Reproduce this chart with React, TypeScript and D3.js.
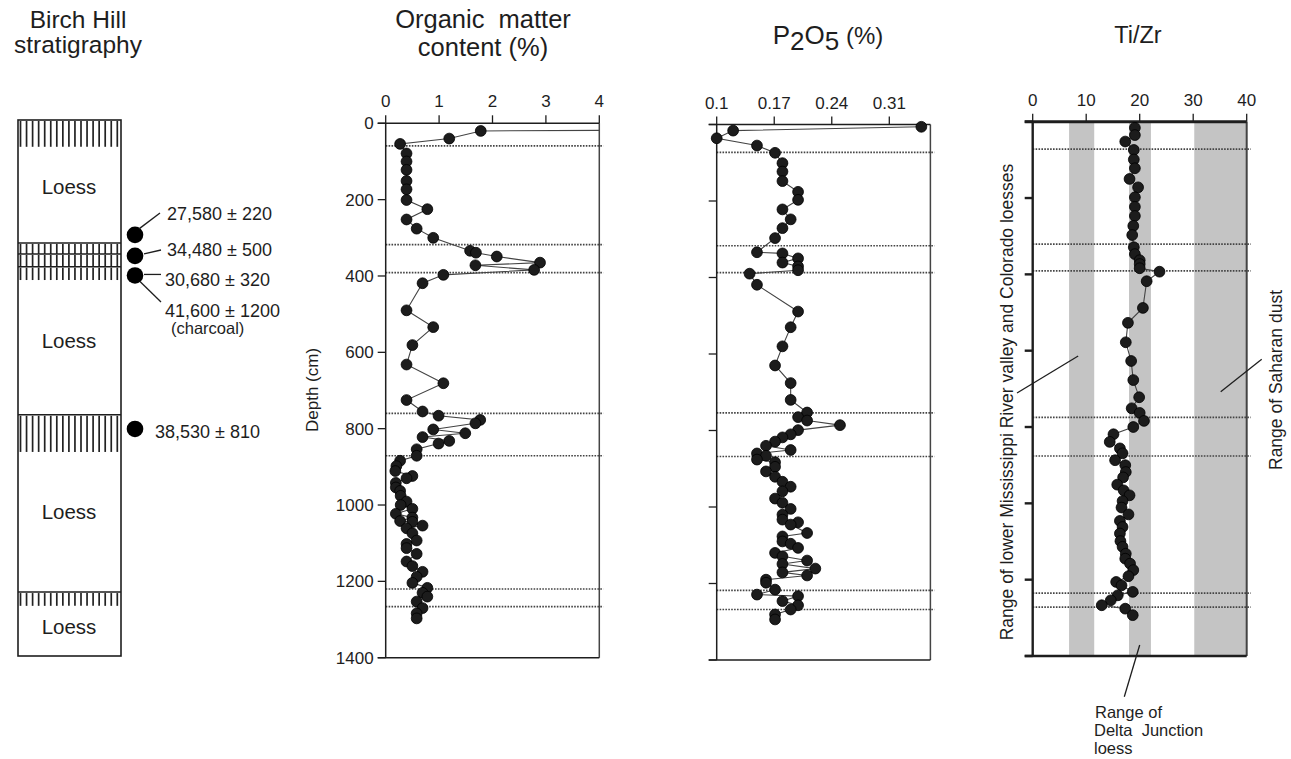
import React from "react";
import * as d3 from "d3";

const W = 1291;
const H = 759;
const FONT = "'Liberation Sans', Arial, Helvetica, sans-serif";
const INK = "#1e1e1e";

// depth axis (cm)
const depthTicks = [0, 200, 400, 600, 800, 1000, 1200, 1400];

// x axis ticks per panel
const omTicks = [0, 1, 2, 3, 4];
const p2o5Ticks = [0.1, 0.17, 0.24, 0.31];
const tizrTicks = [0, 10, 20, 30, 40];

// dotted horizon lines (cm) as drawn in each panel
const omHorizons = [59, 318, 391, 760, 871, 1220, 1266];
const p2o5Horizons = [73, 317, 387, 754, 868, 1218, 1268];
const tizrHorizons = [72, 321, 391, 775, 876, 1235, 1272];

// Ti/Zr reference ranges (grey bands)
const tizrRanges: [number, number][] = [
  [6.8, 11.5], // lower Mississippi River valley and Colorado loesses
  [18.0, 22.1], // Delta Junction loess
  [30.2, 40], // Saharan dust
];

// [depth cm, value] -- first OM point is off scale (>4 %)
const organicMatter: [number, number][] = [
  [17, 6.0], [20, 1.78], [40, 1.19], [54, 0.27], [79, 0.39], [100, 0.39], [122, 0.39],
  [151, 0.39], [173, 0.39], [201, 0.39], [225, 0.78], [252, 0.39], [276, 0.58], [300, 0.89],
  [334, 1.58], [339, 1.69], [349, 2.08], [365, 2.89], [372, 1.68], [384, 2.78], [397, 1.08],
  [419, 0.69], [490, 0.39], [534, 0.89], [581, 0.5], [632, 0.39], [681, 1.08], [725, 0.39],
  [755, 0.69], [766, 0.99], [777, 1.77], [786, 1.68], [802, 0.89], [812, 1.49], [822, 0.69],
  [832, 1.19], [839, 0.99], [854, 0.58], [871, 0.58], [884, 0.27], [898, 0.2], [911, 0.18],
  [924, 0.5], [930, 0.39], [942, 0.19], [954, 0.19], [963, 0.27], [976, 0.28], [991, 0.39],
  [1000, 0.28], [1010, 0.5], [1023, 0.19], [1033, 0.5], [1042, 0.27], [1044, 0.5], [1054, 0.69],
  [1061, 0.39], [1074, 0.5], [1093, 0.58], [1102, 0.39], [1113, 0.39], [1128, 0.58], [1148, 0.39],
  [1160, 0.5], [1175, 0.69], [1188, 0.58], [1204, 0.5], [1217, 0.78], [1230, 0.69], [1240, 0.78],
  [1253, 0.58], [1270, 0.69], [1284, 0.58], [1297, 0.58],
];

const p2o5: [number, number][] = [
  [6, 0.349], [16, 0.12], [36, 0.1], [55, 0.149], [74, 0.171], [101, 0.18], [123, 0.18],
  [148, 0.18], [176, 0.199], [197, 0.199], [222, 0.18], [248, 0.19], [271, 0.18], [297, 0.171],
  [334, 0.149], [337, 0.18], [350, 0.199], [361, 0.18], [371, 0.199], [381, 0.199], [390, 0.14],
  [419, 0.149], [489, 0.199], [530, 0.19], [580, 0.18], [630, 0.171], [676, 0.19], [720, 0.19],
  [753, 0.21], [765, 0.199], [774, 0.21], [786, 0.25], [799, 0.199], [810, 0.19], [818, 0.18],
  [829, 0.171], [840, 0.16], [851, 0.19], [860, 0.149], [866, 0.16], [876, 0.149], [883, 0.171],
  [895, 0.171], [907, 0.16], [921, 0.171], [934, 0.18], [947, 0.19], [959, 0.18], [978, 0.171],
  [989, 0.18], [1005, 0.19], [1020, 0.18], [1033, 0.18], [1040, 0.199], [1046, 0.19], [1068, 0.21],
  [1077, 0.18], [1090, 0.18], [1096, 0.19], [1107, 0.199], [1120, 0.171], [1129, 0.18], [1140, 0.21],
  [1149, 0.18], [1161, 0.22], [1171, 0.18], [1179, 0.21], [1190, 0.16], [1198, 0.16], [1216, 0.171],
  [1229, 0.149], [1233, 0.199], [1246, 0.18], [1257, 0.199], [1268, 0.19], [1281, 0.171], [1294, 0.171],
];

const tizr: [number, number][] = [
  [16, 19.1], [35, 19.1], [52, 17.3], [74, 18.9], [99, 18.9], [122, 19.1], [150, 18.1], [172, 19.7],
  [198, 19.1], [223, 19.1], [247, 19.1], [273, 18.8], [297, 18.6], [329, 18.9], [347, 19.1],
  [363, 20.0], [373, 20.0], [384, 20.0], [393, 23.7], [418, 21.3], [488, 20.6], [527, 17.8],
  [578, 17.4], [627, 18.4], [677, 18.8], [722, 19.9], [751, 18.5], [763, 20.0], [784, 20.8],
  [800, 18.8], [819, 15.1], [839, 14.4], [856, 16.3], [869, 16.8], [887, 15.4], [900, 17.3],
  [918, 17.4], [932, 16.9], [951, 15.8], [966, 17.0], [979, 18.1], [994, 16.8], [1011, 16.6],
  [1029, 17.9], [1046, 16.3], [1062, 16.8], [1079, 16.3], [1099, 16.4], [1114, 16.8], [1132, 17.4],
  [1145, 17.3], [1158, 18.2], [1175, 18.8], [1191, 17.9], [1206, 15.6], [1215, 16.6], [1232, 18.7],
  [1241, 15.9], [1254, 14.6], [1267, 12.9], [1276, 17.3], [1293, 18.7],
];

// stratigraphic column (depths in cm on the column's own scale)
const hatchBands: [number, number][] = [[0, 70], [321, 350], [350, 383], [383, 418], [770, 867], [1233, 1269]];
const contacts = [321, 350, 383, 770, 1233];
const loessDepths = [175, 575, 1024, 1324];
const datedDepths = [300, 355, 406, 807];
const dateLabels = ["27,580 \u00b1 220", "34,480 \u00b1 500", "30,680 \u00b1 320", "41,600 \u00b1 1200", "38,530 \u00b1 810"];

type PanelProps = {
  id: string;
  x: d3.ScaleLinear<number, number>;
  y: d3.ScaleLinear<number, number>;
  data: [number, number][];
  ticks: number[];
  horizons: number[];
  depthLabels?: boolean;
  heavy?: boolean;
  bands?: [number, number][];
};

function Panel({ id, x, y, data, ticks, horizons, depthLabels, heavy, bands }: PanelProps) {
  const [left, right] = x.range();
  const [top, bottom] = y.range();
  const line = d3
    .line<[number, number]>()
    .x((d) => x(d[1]))
    .y((d) => y(d[0]));
  const aw = heavy ? 2.4 : 1.5;
  return (
    <g>
      <defs>
        <clipPath id={id}>
          <rect x={left - 10} y={top - 10} width={right - left + 10} height={bottom - top + 10} />
        </clipPath>
      </defs>
      {bands &&
        bands.map((b, i) => (
          <rect key={i} x={x(b[0])} y={top} width={x(b[1]) - x(b[0])} height={bottom - top} fill="#c4c4c4" />
        ))}
      {horizons.map((h, i) => (
        <line key={i} x1={left} x2={right + 4} y1={y(h)} y2={y(h)} stroke="#444" strokeWidth={1.7} strokeDasharray="1.6,1.3" />
      ))}
      {/* frame */}
      <line x1={left} x2={left} y1={top} y2={bottom} stroke={INK} strokeWidth={aw} />
      <line x1={right} x2={right} y1={top} y2={bottom} stroke="#444" strokeWidth={heavy ? 2 : 1.5} />
      <line x1={left - 8} x2={right} y1={bottom} y2={bottom} stroke={INK} strokeWidth={aw} />
      <line x1={left - 8} x2={right} y1={top} y2={top} stroke={INK} strokeWidth={heavy ? 3 : 1.5} />
      {ticks.map((t) => (
        <g key={t}>
          <line x1={x(t)} x2={x(t)} y1={top} y2={top - 8} stroke={INK} strokeWidth={1.3} />
          <text x={x(t)} y={top - 16} textAnchor="middle" fontSize={17} fill={INK} fontFamily={FONT}>
            {d3.format("~g")(t)}
          </text>
        </g>
      ))}
      {depthTicks.map((t) => (
        <g key={t}>
          <line x1={left - 8} x2={left} y1={y(t)} y2={y(t)} stroke={INK} strokeWidth={heavy ? 2.4 : 1.3} />
          {depthLabels && (
            <text x={left - 12} y={y(t)} dy="0.36em" textAnchor="end" fontSize={17} fill={INK} fontFamily={FONT}>
              {t}
            </text>
          )}
        </g>
      ))}
      <g clipPath={`url(#${id})`}>
        <path d={line(data) || ""} fill="none" stroke="#444" strokeWidth={1.1} />
        {data.map((d, i) => (
          <circle key={i} cx={x(d[1])} cy={y(d[0])} r={5.4} fill="#1c1c1c" stroke="#000" strokeWidth={0.8} />
        ))}
      </g>
    </g>
  );
}

function Column() {
  const sy = d3.scaleLinear().domain([0, 1400]).range([120, 656]);
  const x0 = 18;
  const x1 = 121;
  const hatchX = d3.range(20.5, 118, 6.05);
  const dotX = 135;
  const txt = { fontFamily: FONT, fill: INK };
  return (
    <g>
      {hatchBands.map((b, i) => (
        <g key={i}>
          {hatchX.map((hx, j) => (
            <line key={j} x1={hx} x2={hx} y1={sy(b[0]) + 1} y2={sy(b[1])} stroke="#222" strokeWidth={1.7} />
          ))}
        </g>
      ))}
      {contacts.map((c, i) => (
        <line key={i} x1={x0} x2={x1} y1={sy(c)} y2={sy(c)} stroke={INK} strokeWidth={1.5} />
      ))}
      <rect x={x0} y={sy(0)} width={x1 - x0} height={sy(1400) - sy(0)} fill="none" stroke={INK} strokeWidth={1.6} />
      {loessDepths.map((d, i) => (
        <text key={i} x={69} y={sy(d)} dy="0.36em" textAnchor="middle" fontSize={20.5} {...txt}>
          Loess
        </text>
      ))}
      {datedDepths.map((d, i) => (
        <circle key={i} cx={dotX} cy={sy(d)} r={8.3} fill="#000" />
      ))}
      {/* leaders */}
      <line x1={139} y1={sy(datedDepths[0]) - 6} x2={160} y2={213} stroke={INK} strokeWidth={1.3} />
      <line x1={144} y1={sy(datedDepths[1]) - 2} x2={161} y2={250} stroke={INK} strokeWidth={1.3} />
      <line x1={144} y1={sy(datedDepths[2]) - 1} x2={161} y2={sy(datedDepths[2]) - 1} stroke={INK} strokeWidth={1.3} />
      <line x1={140} y1={sy(datedDepths[2]) + 6} x2={161} y2={302} stroke={INK} strokeWidth={1.3} />
      <text x={167} y={214} dy="0.36em" fontSize={18} {...txt}>{dateLabels[0]}</text>
      <text x={167} y={250} dy="0.36em" fontSize={18} {...txt}>{dateLabels[1]}</text>
      <text x={165} y={280} dy="0.36em" fontSize={18} {...txt}>{dateLabels[2]}</text>
      <text x={165} y={311} dy="0.36em" fontSize={18} {...txt}>{dateLabels[3]}</text>
      <text x={171} y={329} dy="0.3em" fontSize={16.5} {...txt}>(charcoal)</text>
      <text x={155} y={sy(datedDepths[3]) + 3} dy="0.36em" fontSize={18} {...txt}>{dateLabels[4]}</text>
    </g>
  );
}

export default function App() {
  const omX = d3.scaleLinear().domain([0, 4]).range([385.7, 599.3]);
  const omY = d3.scaleLinear().domain([0, 1400]).range([123.3, 657.7]);
  const pX = d3.scaleLinear().domain([0.1, 0.36]).range([716.7, 930.4]);
  const pY = d3.scaleLinear().domain([0, 1400]).range([124.5, 660]);
  const tX = d3.scaleLinear().domain([0, 40]).range([1032.7, 1246.7]);
  const tY = d3.scaleLinear().domain([0, 1400]).range([121.7, 656]);
  const title = { fontFamily: FONT, fill: INK, fontSize: 24.5, textAnchor: "middle" as const };
  const note = { fontFamily: FONT, fill: INK, fontSize: 17.5 };

  return (
    <svg width={W} height={H} style={{ position: "absolute", left: 0, top: 0, background: "#fff" }}>
      <rect width={W} height={H} fill="#fff" />
      <text x={78} y={28} {...title}>Birch Hill</text>
      <text x={78} y={53} {...title}>stratigraphy</text>
      <text x={483} y={28} {...title} fontSize={25.5} style={{ whiteSpace: "pre" }}>Organic  matter</text>
      <text x={483} y={56} {...title} fontSize={25.5}>content (%)</text>
      <text x={828} y={44} {...title} fontSize={26}>
        P<tspan dy={6}>2</tspan><tspan dy={-6}>O</tspan><tspan dy={6}>5</tspan>
        <tspan dy={-6} fontSize={24}> (%)</tspan>
      </text>
      <text x={1138} y={43} {...title} fontSize={23.5}>Ti/Zr</text>

      <Column />

      <Panel id="c-om" x={omX} y={omY} data={organicMatter} ticks={omTicks} horizons={omHorizons} depthLabels />
      <text transform="translate(318,390) rotate(-90)" textAnchor="middle" fontSize={17} fontFamily={FONT} fill={INK}>
        Depth (cm)
      </text>

      <Panel id="c-p" x={pX} y={pY} data={p2o5} ticks={p2o5Ticks} horizons={p2o5Horizons} />

      <Panel id="c-t" x={tX} y={tY} data={tizr} ticks={tizrTicks} horizons={tizrHorizons} heavy bands={tizrRanges} />

      {/* Ti/Zr annotations */}
      <text transform="translate(1013,402) rotate(-90)" textAnchor="middle" {...note}>
        Range of lower Mississippi River valley and Colorado loesses
      </text>
      <line x1={1017} y1={393} x2={tX(8.5)} y2={356} stroke={INK} strokeWidth={1.3} />
      <text transform="translate(1282,380) rotate(-90)" textAnchor="middle" {...note}>
        Range of Saharan dust
      </text>
      <line x1={1220.7} y1={391.7} x2={1261.7} y2={359.3} stroke={INK} strokeWidth={1.3} />
      <line x1={tX(20)} y1={645} x2={1124.3} y2={696.7} stroke={INK} strokeWidth={1.3} />
      <text x={1095} y={712} dy="0.36em" fontSize={16.5} fontFamily={FONT} fill={INK}>Range of</text>
      <text x={1094} y={730} dy="0.36em" fontSize={16.5} fontFamily={FONT} fill={INK} style={{ whiteSpace: "pre" }}>
        Delta  Junction
      </text>
      <text x={1094} y={748} dy="0.36em" fontSize={16.5} fontFamily={FONT} fill={INK}>loess</text>
    </svg>
  );
}
